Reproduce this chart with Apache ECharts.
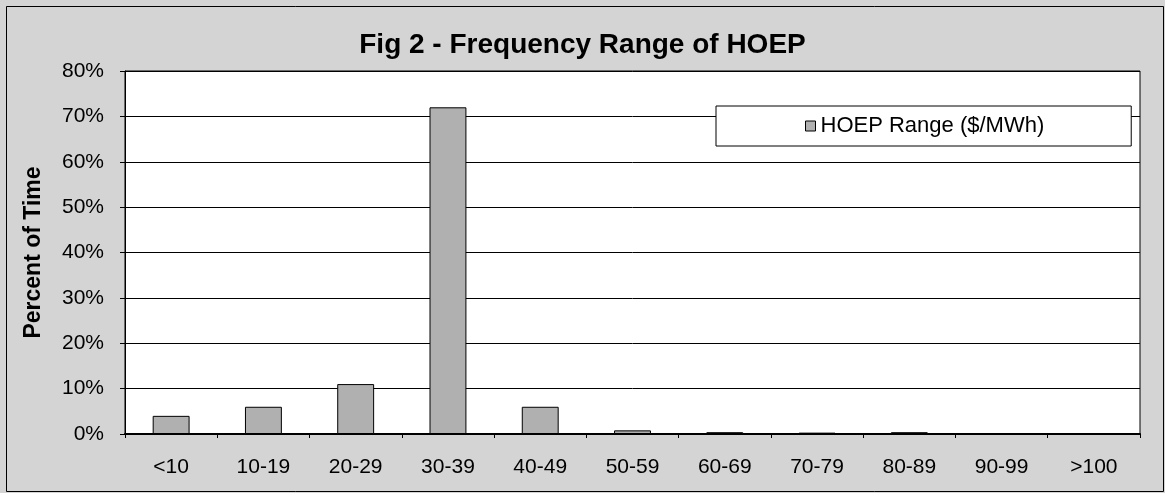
<!DOCTYPE html>
<html>
<head>
<meta charset="utf-8">
<script src="https://cdn.jsdelivr.net/npm/echarts@6/dist/echarts.min.js"></script>
<style>
  html, body { margin: 0; padding: 0; background: #d4d4d4; }
  #chart { width: 1165px; height: 493px; }
</style>
</head>
<body>
<div id="chart"></div>
<script>
var categories = ['<10', '10-19', '20-29', '30-39', '40-49', '50-59', '60-69', '70-79', '80-89', '90-99', '>100'];
var hoepShare = [0.04, 0.06, 0.11, 0.72, 0.06, 0.008, 0.004, 0.003, 0.004, 0.001, 0.001];
var yTicks = [0, 0.1, 0.2, 0.3, 0.4, 0.5, 0.6, 0.7, 0.8];

var dom = document.getElementById('chart');
var myChart = echarts.init(dom, null, { renderer: 'canvas' });

var font = 'Liberation Sans, Arial, sans-serif';

var option = {
    animation: false,
    backgroundColor: '#d4d4d4',
    // outer frame of the figure
    graphic: [
        {
            type: 'rect',
            left: 4,
            top: 4,
            shape: { width: 1157, height: 485 },
            style: { fill: 'none', stroke: '#000', lineWidth: 1 },
            silent: true
        }
    ],
    title: {
        text: 'Fig 2 - Frequency Range of HOEP',
        left: 'center',
        top: 31,
        padding: 0,
        textStyle: { fontFamily: font, fontSize: 28, fontWeight: 'bold', color: '#000' }
    },
    legend: {
        data: ['HOEP Range ($/MWh)'],
        left: 716,
        top: 106,
        padding: [9, 87, 9, 89],
        backgroundColor: '#fff',
        borderColor: '#000',
        borderWidth: 1,
        borderRadius: 0,
        icon: 'rect',
        itemWidth: 10,
        itemHeight: 10,
        itemGap: 5,
        itemStyle: { borderColor: '#000', borderWidth: 1 },
        textStyle: { fontFamily: font, fontSize: 22, lineHeight: 22, color: '#000' }
    },
    grid: {
        left: 125,
        right: 25,
        top: 71,
        bottom: 59,
        show: true,
        backgroundColor: '#fff',
        borderColor: '#000',
        borderWidth: 1
    },
    xAxis: {
        type: 'category',
        data: categories,
        axisLine: { lineStyle: { color: '#000', width: 2 } },
        axisTick: { show: true, length: 4, lineStyle: { color: '#000' } },
        axisLabel: { fontFamily: font, fontSize: 21, color: '#000', margin: 23 }
    },
    yAxis: {
        type: 'value',
        min: 0,
        max: yTicks[yTicks.length - 1],
        interval: 0.1,
        name: 'Percent of Time',
        nameLocation: 'middle',
        nameGap: 80,
        nameTextStyle: { fontFamily: font, fontSize: 23, fontWeight: 'bold', color: '#000' },
        axisLine: { show: true, lineStyle: { color: '#000', width: 1 } },
        axisTick: { show: true, length: 5, lineStyle: { color: '#000' } },
        splitLine: { lineStyle: { color: '#000', width: 1 } },
        axisLabel: {
            fontFamily: font, fontSize: 21, color: '#000', margin: 21,
            formatter: function (v) { return Math.round(v * 100) + '%'; }
        }
    },
    series: [
        {
            name: 'HOEP Range ($/MWh)',
            type: 'bar',
            data: hoepShare,
            barCategoryGap: '60%',
            itemStyle: { color: '#b0b0b0', borderColor: '#000', borderWidth: 1 }
        }
    ]
};

myChart.setOption(option);
window.addEventListener('resize', myChart.resize);
</script>
</body>
</html>
